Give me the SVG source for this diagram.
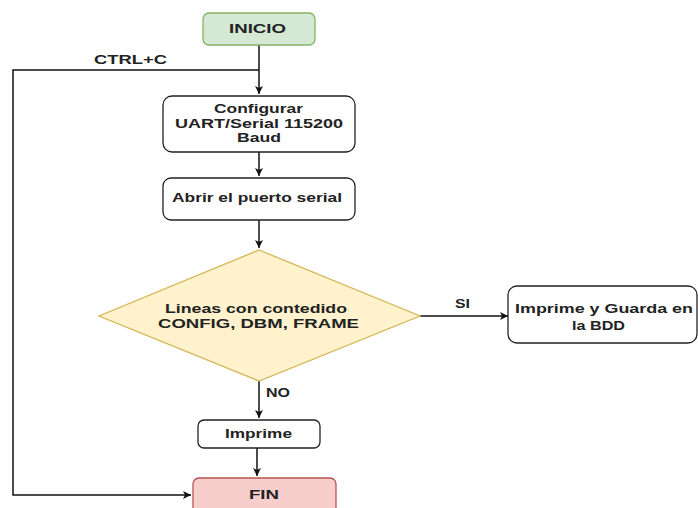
<svg xmlns="http://www.w3.org/2000/svg" width="698" height="508" viewBox="0 0 698 508">
<defs>
<marker id="arr" markerWidth="10" markerHeight="10" refX="9" refY="5" orient="auto" markerUnits="userSpaceOnUse">
<path d="M1,1 L9,5 L1,9 L3,5 Z" fill="#111"/>
</marker>
<style>
.box{fill:#fff;stroke:#222;stroke-width:1.3}
.t{font-family:"Liberation Sans",Arial,sans-serif;font-size:13.5px;font-weight:bold;fill:#222}
.l{font-family:"Liberation Sans",Arial,sans-serif;font-size:13px;font-weight:bold;fill:#222}
.c{fill:none;stroke:#111;stroke-width:1.5}
</style>
</defs>
<rect width="698" height="508" fill="#fff"/>
<g id="connectors">
<path class="c" d="M259,45 V94" marker-end="url(#arr)"/>
<path class="c" d="M259,70 H13 V495 H191" marker-end="url(#arr)"/>
<path class="c" d="M259,152 V176" marker-end="url(#arr)"/>
<path class="c" d="M259,220 V248" marker-end="url(#arr)"/>
<path class="c" d="M420,316 H508" marker-end="url(#arr)"/>
<path class="c" d="M259,380 V418" marker-end="url(#arr)"/>
<path class="c" d="M257,448 V476" marker-end="url(#arr)"/>
<text class="l" x="94" y="64" textLength="73" lengthAdjust="spacingAndGlyphs">CTRL+C</text>
<text class="l" x="455" y="308" textLength="15" lengthAdjust="spacingAndGlyphs">SI</text>
<text class="l" x="266" y="397" textLength="24" lengthAdjust="spacingAndGlyphs">NO</text>
</g>
<g id="inicio">
<rect x="203" y="13" width="112" height="32" rx="6" fill="#d5e8d4" stroke="#82b366" stroke-width="1.3"/>
<text class="t" x="229" y="33" textLength="57" lengthAdjust="spacingAndGlyphs">INICIO</text>
</g>
<g id="configurar">
<rect class="box" x="163" y="96" width="192" height="56" rx="9"/>
<text class="t" x="214" y="113" textLength="89" lengthAdjust="spacingAndGlyphs">Configurar</text>
<text class="t" x="175" y="128" textLength="168" lengthAdjust="spacingAndGlyphs">UART/Serial 115200</text>
<text class="t" x="237" y="142" textLength="44" lengthAdjust="spacingAndGlyphs">Baud</text>
</g>
<g id="abrir">
<rect class="box" x="163" y="178" width="192" height="42" rx="8"/>
<text class="t" x="172" y="202" textLength="170" lengthAdjust="spacingAndGlyphs">Abrir el puerto serial</text>
</g>
<g id="decision">
<polygon points="259,250 420,316 259,381 99,316" fill="#fff2cc" stroke="#d6b656" stroke-width="1.3"/>
<text class="t" x="165" y="313" textLength="182" lengthAdjust="spacingAndGlyphs">Lineas con contedido</text>
<text class="t" x="158" y="328" textLength="201" lengthAdjust="spacingAndGlyphs">CONFIG, DBM, FRAME</text>
</g>
<g id="guarda">
<rect class="box" x="508" y="286" width="189" height="57" rx="9"/>
<text class="t" x="515" y="313" textLength="178" lengthAdjust="spacingAndGlyphs">Imprime y Guarda en</text>
<text class="t" x="572" y="330" textLength="53" lengthAdjust="spacingAndGlyphs">la BDD</text>
</g>
<g id="imprime">
<rect class="box" x="198" y="420" width="122" height="28" rx="6"/>
<text class="t" x="225" y="438" textLength="67" lengthAdjust="spacingAndGlyphs">Imprime</text>
</g>
<g id="fin">
<rect x="193" y="478" width="143" height="40" rx="6" fill="#f8cecc" stroke="#b85450" stroke-width="1.3"/>
<text class="t" x="249" y="499" textLength="30" lengthAdjust="spacingAndGlyphs">FIN</text>
</g>
</svg>
